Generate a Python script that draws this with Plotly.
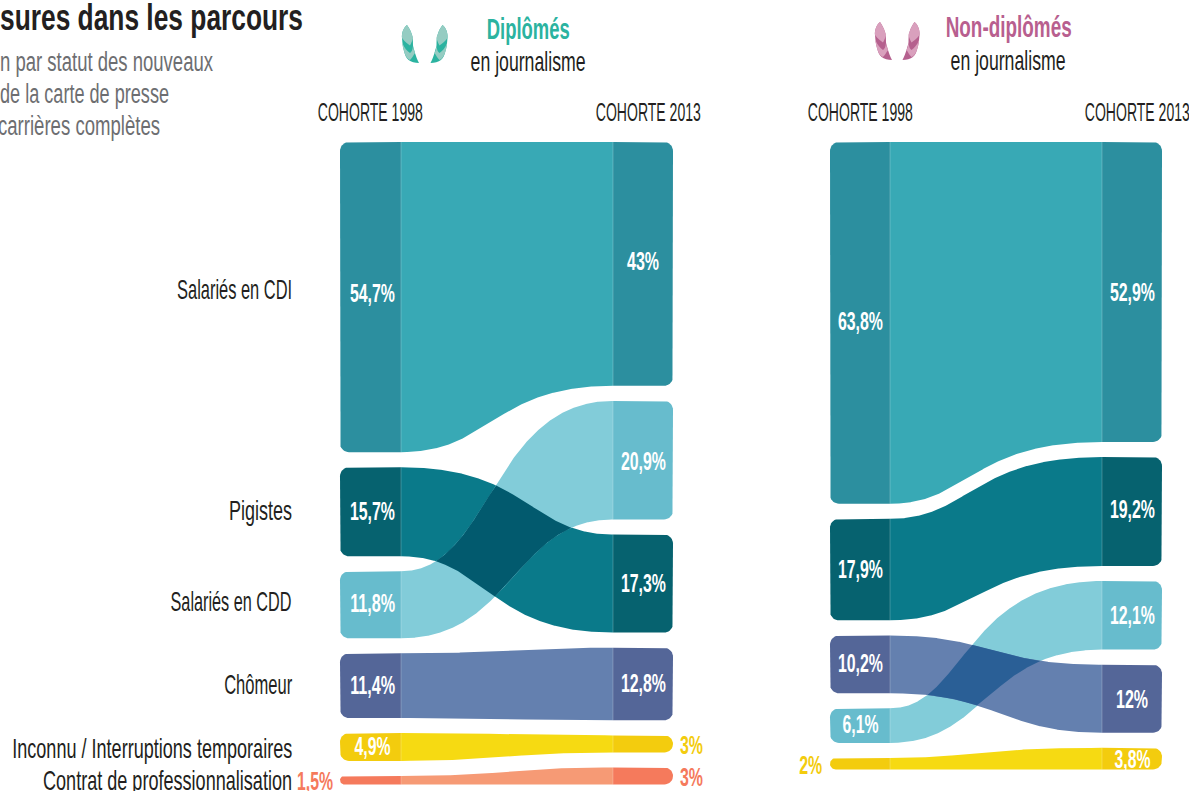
import json
import numpy as np
import plotly.graph_objects as go

# ---------- data ----------
CATS = ["CDI", "PIG", "CDD", "CHO", "INC", "PRO"]
ROW_LABELS = {"CDI": "Salariés en CDI", "PIG": "Pigistes", "CDD": "Salariés en CDD", "CHO": "Chômeur",
              "INC": "Inconnu / Interruptions temporaires", "PRO": "Contrat de professionnalisation"}
dip_order_1998 = ["CDI", "PIG", "CDD", "CHO", "INC", "PRO"]
dip_values_1998 = [54.7, 15.7, 11.8, 11.4, 4.9, 1.5]
dip_order_2013 = ["CDI", "CDD", "PIG", "CHO", "INC", "PRO"]
dip_values_2013 = [43.0, 20.9, 17.3, 12.8, 3.0, 3.0]
non_order_1998 = ["CDI", "PIG", "CHO", "CDD", "INC"]
non_values_1998 = [63.8, 17.9, 10.2, 6.1, 2.0]
non_order_2013 = ["CDI", "PIG", "CDD", "CHO", "INC"]
non_values_2013 = [52.9, 19.2, 12.1, 12.0, 3.8]

# ---------- style ----------
W, H = 1189, 791
PX = 5.67          # pixels per percentage point
TOP = 142          # pixel of 0 %
GAP = 15.1 / PX
RAD = 9
NODE = {"CDI": "#2c8f9f", "PIG": "#06626f", "CDD": "#67bccd", "CHO": "#546698", "INC": "#f3cc0e", "PRO": "#f57a5c"}
FLOW = {"CDI": "#38a9b5", "PIG": "#0a7a8a", "CDD": "#82ccd9", "CHO": "#6480af", "INC": "#f6da12", "PRO": "#f69a75"}
FONT = "Liberation Sans, sans-serif"
DARK = "#231f20"
GREY = "#6d6e71"
VALUE_WIDTH = {2: 23, 3: 32, 4: 36, 5: 45}
# horizontal bias of each ribbon edge's inflection point, (top, bottom), pixels
BEND_D = {"CDI": (0, -15), "PIG": (22, -20), "CDD": (-16, 6), "CHO": (0, 0), "INC": (0, 0), "PRO": (0, 0)}
BEND_N = {"CDI": (0, -26), "PIG": (-26, -19), "CDD": (-32, -10), "CHO": (-6, 4), "INC": (-23, 0)}

fig = go.Figure()
text_widths = []


def stack(order, values):
    out, p = {}, 0.0
    for c, v in zip(order, values):
        out[c] = (p, p + v, v)
        p += v + GAP
    return out


def curve(x0, x1, y0, y1, xs, bend):
    t = np.linspace(0, 1, 500)
    m = (x0 + x1) / 2 + bend
    bx = x0*(1-t)**3 + 3*m*(1-t)**2*t + 3*m*(1-t)*t**2 + x1*t**3
    by = y0*((1-t)**3 + 3*(1-t)**2*t) + y1*(3*(1-t)*t**2 + t**3)
    return np.interp(xs, bx, by)


def poly(x, y, color):
    fig.add_trace(go.Scatter(x=list(x), y=list(y), mode="lines", line=dict(width=0), fill="toself",
                             fillcolor=color, hoverinfo="skip", showlegend=False))


def rounded_node(x0, x1, y0, y1, side, color):
    h = (y1 - y0) * PX
    r = min(RAD, h / 2)
    a = np.linspace(0, np.pi / 2, 10)
    ex = x0 if side == "left" else x1
    sgn = 1 if side == "left" else -1
    inner = x1 if side == "left" else x0
    xs = [inner]; ys = [y0]
    xs += list(ex + sgn * r * (1 - np.sin(a))); ys += list(y0 + (r / PX) * (1 - np.cos(a)))
    xs += list(ex + sgn * r * (1 - np.cos(a))); ys += list(y1 - (r / PX) * (1 - np.sin(a)))
    xs += [inner]; ys += [y1]
    poly(xs, ys, color)


def panel(x, o98, v98, o13, v13, bends, overlap_pair, overlap_color):
    L0, L1, R0, R1 = x
    a, b = stack(o98, v98), stack(o13, v13)
    xs = np.linspace(L1, R0, 400)
    edges = {}
    cats = [c for c in CATS if c in a]
    for c in cats:
        top = curve(L1, R0, a[c][0], b[c][0], xs, bends[c][0])
        bot = curve(L1, R0, a[c][1], b[c][1], xs, bends[c][1])
        edges[c] = (top, bot)
        poly(np.r_[xs, xs[::-1]], np.r_[top, bot[::-1]], FLOW[c])
    p, q = overlap_pair
    t = np.maximum(edges[p][0], edges[q][0])
    s = np.minimum(edges[p][1], edges[q][1])
    mask = t < s
    poly(np.r_[xs[mask], xs[mask][::-1]], np.r_[t[mask], s[mask][::-1]], overlap_color)
    for c in cats:
        rounded_node(L0, L1, a[c][0], a[c][1], "left", NODE[c])
        rounded_node(R0, R1, b[c][0], b[c][1], "right", NODE[c])
        for xv, (t0, t1) in ((L1, a[c][:2]), (R0, b[c][:2])):
            fig.add_trace(go.Scatter(x=[xv, xv], y=[t0, t1], mode="lines",
                                     line=dict(color="rgba(255,255,255,0.22)", width=1),
                                     hoverinfo="skip", showlegend=False))
    return a, b


def txt(x, y, s, size, width, color=DARK, anchor="center", bold=False, yshift=0, xshift=0):
    fig.add_annotation(x=x, y=y, text=s, showarrow=False, xanchor=anchor, align=anchor, yanchor="middle",
                       yshift=yshift, xshift=xshift,
                       font=dict(size=size, color=color, family=FONT, weight=700 if bold else 400),
                       xref="x", yref="y", borderpad=0, borderwidth=0)
    text_widths.append(width)


def py(p):
    return (p - TOP) / PX


def pct(v):
    return (f"{v:.1f}".replace(".", ",").replace(",0", "")) + "%"


def vlabel(x, y, v, color, anchor="center", yshift=1):
    s = pct(v)
    txt(x, y, s, 25, VALUE_WIDTH[len(s)], color, anchor, True, yshift)


PANEL_D = (340, 401, 613, 673)
PANEL_N = (830, 890, 1102, 1162)
a, b = panel(PANEL_D, dip_order_1998, dip_values_1998, dip_order_2013, dip_values_2013, BEND_D, ("PIG", "CDD"), "#025a6e")
c, d = panel(PANEL_N, non_order_1998, non_values_1998, non_order_2013, non_values_2013, BEND_N, ("CHO", "CDD"), "#2a5f96")

# value labels
for cat, (t, e, v) in a.items():
    if cat == "PRO":
        vlabel(333, (t + e) / 2, v, NODE[cat], "right", -1)
    else:
        vlabel(372.5, (t + e) / 2, v, "white", yshift={"CDI": 4, "CDD": 2}.get(cat, 1))
for cat, (t, e, v) in b.items():
    if cat in ("INC", "PRO"):
        vlabel(680, (t + e) / 2, v, NODE[cat], "left", -1)
    else:
        vlabel(643, (t + e) / 2, v, "white", yshift={"CDI": 3, "CDD": -1}.get(cat, 1))
for cat, (t, e, v) in c.items():
    if cat == "INC":
        vlabel(822, (t + e) / 2, v, NODE[cat], "right", -1)
    else:
        vlabel(860.5, (t + e) / 2, v, "white", yshift={"CDI": 2, "CDD": 2}.get(cat, 1))
for cat, (t, e, v) in d.items():
    vlabel(1132, (t + e) / 2, v, "white", yshift={"PIG": 2}.get(cat, 0))

# row labels
ROW_SHIFT = {"CDI": 8, "PIG": 1, "CDD": 3, "CHO": 1, "INC": -1, "PRO": 0}
ROW_WIDTH = {"CDI": 115, "PIG": 63, "CDD": 121, "CHO": 68, "INC": 280, "PRO": 249}
for cat in dip_order_1998:
    t, e, v = a[cat]
    txt(292, (t + e) / 2, ROW_LABELS[cat], 28, ROW_WIDTH[cat], DARK, "right", yshift=ROW_SHIFT[cat])

# column headers
for x_, s in [(370.5, "COHORTE 1998"), (648.5, "COHORTE 2013"), (860, "COHORTE 1998"), (1137.5, "COHORTE 2013")]:
    txt(x_, py(112), s, 26, 105)

# headings
txt(528, py(29), "Diplômés", 29, 83, "#2bb3a0", bold=True)
txt(528, py(61), "en journalisme", 28, 115)
txt(1008, py(27), "Non-diplômés", 29, 126, "#b85f8f", bold=True)
txt(1008, py(60), "en journalisme", 28, 115)

# clipped title block
txt(0, py(17), "sures dans les parcours", 36, 303, DARK, "left", True)
txt(0, py(62), "n par statut des nouveaux", 27, 213, GREY, "left")
txt(0, py(94), "de la carte de presse", 27, 169, GREY, "left")
txt(0, py(126), "carrières complètes", 27, 162, GREY, "left", xshift=-2)


# laurel icons
def leaf_shapes(ox, oy, flip, light, dark):
    def P(s):
        out = []
        for tok in s.split():
            if tok.isalpha():
                out.append(tok)
            else:
                xx, yy = tok.split(",")
                xx, yy = float(xx), float(yy)
                xv = ox - xx if flip else ox + xx
                out.append(f"{xv/W:.5f},{1-(oy+yy)/H:.5f}")
        return " ".join(out)
    leaves = [
        ("M 5,0 C 1,3 -0.5,9 0,13 C 0.5,19 1,23 2,26 C 3,30 4,33 6.6,35 C 9,37 13,38 17,38 "
         "C 15,34 14,31 13,28 C 12,24 11,22 11,20 C 11,16 11,13 10,10 C 9,6 7,3 5,0 Z", dark),
        ("M 5,0 C 1,3 -0.5,9 0,13 C 3,17 6,19 8,20.5 C 9.5,18 10.5,15 11,13 C 11,12 10,10 10,10 C 9,6 7,3 5,0 Z", light),
        ("M 0.4,18 C 2.5,23 5,26 8,28 C 9.5,27 10.5,25 11,21 C 11.5,24 12,26 13,28 C 11,31 10,33 8,35 "
         "C 5,34 3,30 2,26 C 1,23 0.5,20 0.4,18 Z", light),
    ]
    return [dict(type="path", path=P(p), fillcolor=col, line=dict(width=0), xref="paper", yref="paper", layer="above")
            for p, col in leaves]


shapes = []
shapes += leaf_shapes(402, 25, False, "#95ccc2", "#2bb3a0")
shapes += leaf_shapes(447.5, 25, True, "#95ccc2", "#2bb3a0")
shapes += leaf_shapes(875, 22, False, "#d9a0bd", "#b5608e")
shapes += leaf_shapes(919.5, 22, True, "#d9a0bd", "#b5608e")

fig.update_layout(
    width=W, height=H, margin=dict(l=0, r=0, t=0, b=0), paper_bgcolor="white", plot_bgcolor="white",
    showlegend=False, shapes=shapes,
    xaxis=dict(range=[0, W], visible=False, fixedrange=True),
    yaxis=dict(range=[(H - TOP) / PX, -TOP / PX], visible=False, fixedrange=True),
)

POST = """
document.body.style.margin = '0';
document.documentElement.style.overflow = 'hidden';
var widths = %s;
document.querySelectorAll('g.annotation').forEach(function (g) {
  var i = +g.getAttribute('data-index');
  var t = g.querySelector('text.annotation-text');
  if (t) { t.setAttribute('textLength', widths[i]); t.setAttribute('lengthAdjust', 'spacingAndGlyphs'); }
});
""" % json.dumps(text_widths)
fig.write_html("out.html", config={"displayModeBar": False}, post_script=POST)
